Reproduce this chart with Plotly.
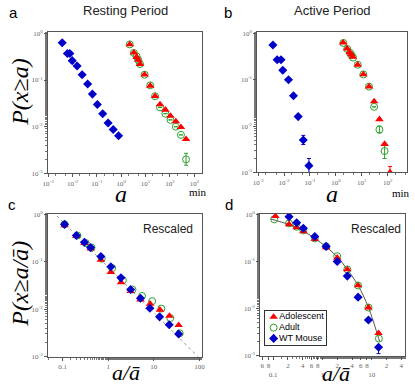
import plotly.graph_objects as go

# ---------------- data ----------------
# Panel a: Resting period
a_blue_x = [0.0038, 0.0062, 0.0078, 0.0098, 0.0155, 0.025, 0.042, 0.066, 0.105, 0.174, 0.29, 0.47, 0.78]
a_blue_y = [0.63, 0.37, 0.37, 0.26, 0.20, 0.13, 0.082, 0.050, 0.030, 0.019, 0.012, 0.0087, 0.0064]
a_red_x = [2.24, 3.3, 4.3, 5.0, 5.9, 9.1, 15.5, 24.5, 39, 65, 105, 174, 282, 457]
a_red_y = [0.58, 0.385, 0.31, 0.27, 0.22, 0.13, 0.075, 0.045, 0.030, 0.023, 0.017, 0.013, 0.0098, 0.0054]
a_green_x = [2.24, 3.3, 4.3, 5.0, 5.9, 9.1, 15.5, 24.5, 39, 65, 105, 174, 282, 457]
a_green_y = [0.58, 0.38, 0.32, 0.27, 0.22, 0.13, 0.077, 0.045, 0.026, 0.019, 0.014, 0.010, 0.0067, 0.0020]
a_green_eup = [0, 0, 0, 0, 0, 0, 0, 0, 0, 0, 0, 0, 0, 0.0007]
a_green_edn = [0, 0, 0, 0, 0, 0, 0, 0, 0, 0, 0, 0, 0, 0.0005]

# Panel b: Active period
b_blue_x = [0.0037, 0.0054, 0.0076, 0.0089, 0.0148, 0.023, 0.035, 0.055, 0.091]
b_blue_y = [0.56, 0.27, 0.27, 0.16, 0.10, 0.045, 0.016, 0.0050, 0.0014]
b_blue_eup = [0, 0, 0, 0, 0, 0, 0, 0.0013, 0.0006]
b_blue_edn = [0, 0, 0, 0, 0, 0, 0, 0.0010, 0.0004]
b_red_x = [1.9, 2.7, 3.4, 3.9, 4.5, 6.9, 11.5, 19, 30, 48, 76, 123]
b_red_y = [0.63, 0.47, 0.39, 0.35, 0.31, 0.21, 0.13, 0.071, 0.034, 0.014, 0.0041, 0.0010]
b_red_eup = [0, 0, 0, 0, 0, 0, 0, 0, 0, 0, 0, 0.00035]
b_green_x = [1.95, 2.75, 3.5, 4.0, 4.6, 7.0, 11.5, 19, 30, 48, 76]
b_green_y = [0.62, 0.46, 0.38, 0.34, 0.30, 0.21, 0.13, 0.071, 0.026, 0.0084, 0.0029]
b_green_eup = [0, 0, 0, 0, 0, 0, 0, 0, 0, 0.0016, 0.0010]
b_green_edn = [0, 0, 0, 0, 0, 0, 0, 0, 0, 0.0013, 0.0009]

# Panel c: Rescaled (resting)
c_red_x = [0.11, 0.20, 0.30, 0.41, 0.69, 1.14, 1.9, 3.1, 5.1, 8.3, 13.6, 22, 35]
c_red_y = [0.59, 0.35, 0.25, 0.19, 0.11, 0.061, 0.037, 0.024, 0.016, 0.013, 0.0097, 0.0072, 0.0046]
c_blue_x = [0.11, 0.20, 0.30, 0.41, 0.69, 1.14, 1.9, 3.1, 5.1, 8.2, 13.4, 21.8, 35]
c_blue_y = [0.62, 0.36, 0.26, 0.20, 0.13, 0.079, 0.046, 0.026, 0.017, 0.0105, 0.0069, 0.0047, 0.0030]
c_green_x = [0.11, 0.21, 0.32, 0.43, 0.72, 1.22, 2.1, 3.4, 5.5, 9.2, 14.6, 23, 37]
c_green_y = [0.62, 0.36, 0.25, 0.20, 0.117, 0.074, 0.041, 0.026, 0.019, 0.0148, 0.0103, 0.0065, 0.0031]
c_fit_x = [0.06, 100]
c_fit_y = [1.15, 0.00093]

# Panel d: Rescaled (active)
d_red_x = [0.111, 0.21, 0.30, 0.41, 0.70, 1.19, 2.0, 3.2, 5.3, 8.6, 13.8]
d_red_y = [0.92, 0.62, 0.53, 0.44, 0.30, 0.20, 0.12, 0.068, 0.031, 0.0105, 0.0030]
d_blue_x = [0.21, 0.30, 0.41, 0.70, 1.19, 2.0, 3.2, 5.3, 8.6, 13.8]
d_blue_y = [0.90, 0.67, 0.51, 0.34, 0.21, 0.10, 0.049, 0.0175, 0.0057, 0.0015]
d_blue_edn = [0, 0, 0, 0, 0, 0, 0, 0, 0, 0.0004]
d_green_x = [0.105, 0.21, 0.30, 0.41, 0.70, 1.19, 2.0, 3.2, 5.3, 8.6, 14.0]
d_green_y = [0.79, 0.65, 0.55, 0.46, 0.31, 0.21, 0.13, 0.068, 0.031, 0.0105, 0.0023]
d_fit_x = [0.09, 0.2, 0.4, 0.7, 1.2, 2.0, 3.2, 5.3, 8.6, 14.5]
d_fit_y = [0.80, 0.62, 0.45, 0.31, 0.205, 0.125, 0.068, 0.031, 0.0105, 0.0020]

# legend entries
series_names = ["Adolescent", "Adult", "WT Mouse"]

y_tickvals = [0.001, 0.01, 0.1, 1]
y_ticktext = ["10<sup>-3</sup>", "10<sup>-2</sup>", "10<sup>-1</sup>", "10<sup>0</sup>"]
ab_x_tickvals = [0.001, 0.01, 0.1, 1, 10, 100, 1000]
ab_x_ticktext = ["10<sup>-3</sup>", "10<sup>-2</sup>", "10<sup>-1</sup>", "10<sup>0</sup>",
                 "10<sup>1</sup>", "10<sup>2</sup>", "10<sup>3</sup>"]
c_x_tickvals = [0.1, 1, 10, 100]
c_x_ticktext = ["0.1", "1", "10", "100"]
d_x_tickvals = [0.06, 0.08, 0.1, 0.2, 0.4, 0.6, 0.8, 1, 2, 4, 6, 8, 10, 20, 40]
d_x_ticktext = ["6", "8", "<br>0.1", "2", "4", "6", "8", "<br>1", "2", "4", "6", "8", "<br>10", "2", "4"]

# ---------------- styles ----------------
RED = "#ff0000"
BLUE = "#0000c8"
GREEN = "#2ca02c"
SERIF = "Liberation Serif"
SANS = "Liberation Sans"

red_m = dict(symbol="triangle-up", size=7.5, color=RED)
blue_m = dict(symbol="diamond", size=7, color=BLUE)
green_m = dict(symbol="circle-open", size=7, color=GREEN, line=dict(width=1, color=GREEN))

fig = go.Figure()

def add(x, y, m, name, xa, ya, eup=None, edn=None, ecol=None):
    err = None
    if eup is not None or edn is not None:
        err = dict(type="data", symmetric=False,
                   array=eup if eup is not None else [0] * len(y),
                   arrayminus=edn if edn is not None else [0] * len(y),
                   color=ecol, thickness=1, width=2)
    fig.add_trace(go.Scatter(x=x, y=y, mode="markers", marker=m, name=name,
                             showlegend=False, error_y=err, xaxis=xa, yaxis=ya))

# panel a
add(a_green_x, a_green_y, green_m, "Adult", "x", "y", eup=a_green_eup, edn=a_green_edn, ecol=GREEN)
add(a_red_x, a_red_y, red_m, "Adolescent", "x", "y")
add(a_blue_x, a_blue_y, blue_m, "WT Mouse", "x", "y")
# panel b
add(b_green_x, b_green_y, green_m, "Adult", "x2", "y2", eup=b_green_eup, edn=b_green_edn, ecol=GREEN)
add(b_red_x, b_red_y, red_m, "Adolescent", "x2", "y2", eup=b_red_eup, ecol=RED)
add(b_blue_x, b_blue_y, blue_m, "WT Mouse", "x2", "y2", eup=b_blue_eup, edn=b_blue_edn, ecol=BLUE)
# panel c
fig.add_trace(go.Scatter(x=c_fit_x, y=c_fit_y, mode="lines", showlegend=False,
                         line=dict(color="#8a9aa8", width=1, dash="dot"), xaxis="x3", yaxis="y3"))
add(c_green_x, c_green_y, green_m, "Adult", "x3", "y3")
add(c_red_x, c_red_y, red_m, "Adolescent", "x3", "y3")
add(c_blue_x, c_blue_y, blue_m, "WT Mouse", "x3", "y3")
# panel d
fig.add_trace(go.Scatter(x=d_fit_x, y=d_fit_y, mode="lines", showlegend=False, line_shape="spline",
                         line=dict(color="#555555", width=1), xaxis="x4", yaxis="y4"))
add(d_green_x, d_green_y, green_m, "Adult", "x4", "y4")
add(d_red_x, d_red_y, red_m, "Adolescent", "x4", "y4")
add(d_blue_x, d_blue_y, blue_m, "WT Mouse", "x4", "y4", edn=d_blue_edn, ecol=BLUE)

# compact legend drawn in its own small categorical axis
for name, m in zip(series_names, [red_m, green_m, blue_m]):
    fig.add_trace(go.Scatter(x=[0], y=[name], mode="markers+text", marker=m, text=[name],
                             textposition="middle right", cliponaxis=False, showlegend=False,
                             textfont=dict(family=SANS, size=9, color="black"),
                             xaxis="x5", yaxis="y5", hoverinfo="skip"))

W, H = 415, 387
def px_x(a, b):
    return [a / W, b / W]
def px_y(top, bottom):
    return [1 - bottom / H, 1 - top / H]

axis_common = dict(type="log", showline=True, linecolor="#555555", linewidth=1, mirror=True,
                   ticks="outside", ticklen=3, tickcolor="#555555", showgrid=False, zeroline=False,
                   tickangle=0,
                   tickfont=dict(family=SERIF, size=7, color="#666666"),
                   minor=dict(ticks="outside", ticklen=2, tickcolor="#777777", showgrid=False))

def yax(anchor, dom):
    return dict(axis_common, domain=dom, anchor=anchor, range=[-3, 0.02],
                tickmode="array", tickvals=y_tickvals, ticktext=y_ticktext)

fig.update_layout(
    width=W, height=H,
    margin=dict(l=0, r=0, t=0, b=0),
    paper_bgcolor="white", plot_bgcolor="white",
    showlegend=False,
    xaxis=dict(axis_common, domain=px_x(43, 200), anchor="y", range=[-3.0, 3.3],
               tickmode="array", tickvals=ab_x_tickvals, ticktext=ab_x_ticktext),
    yaxis=yax("x", px_y(29, 173)),
    xaxis2=dict(axis_common, domain=px_x(257, 410), anchor="y2", range=[-3.03, 2.75],
                tickmode="array", tickvals=ab_x_tickvals, ticktext=ab_x_ticktext),
    yaxis2=yax("x2", px_y(29, 172)),
    xaxis3=dict(axis_common, domain=px_x(43, 200), anchor="y3", range=[-1.32, 2.05],
                tickmode="array", tickvals=c_x_tickvals, ticktext=c_x_ticktext),
    yaxis3=yax("x3", px_y(214, 360)),
    xaxis4=dict(axis_common, domain=px_x(260, 408), anchor="y4", range=[-1.26, 1.68],
                tickmode="array", tickvals=d_x_tickvals, ticktext=d_x_ticktext),
    yaxis4=yax("x4", px_y(214, 359)),
    xaxis5=dict(domain=px_x(265, 327), anchor="y5", range=[-0.16, 1.0], showline=True, mirror=True,
                linecolor="#333333", linewidth=1, showticklabels=False, ticks="", showgrid=False,
                zeroline=False, fixedrange=True),
    yaxis5=dict(domain=px_y(313, 348), anchor="x5", type="category", categoryorder="array",
                categoryarray=series_names[::-1], range=[-0.6, 2.6], showline=True, mirror=True,
                linecolor="#333333", linewidth=1, showticklabels=False, ticks="", showgrid=False,
                zeroline=False, fixedrange=True),
)

def ann(text, x, y, size, family, italic=False, angle=0, color="black"):
    fig.add_annotation(text=("<i>%s</i>" % text) if italic else text,
                       x=x / W, y=1 - y / H, xref="paper", yref="paper",
                       showarrow=False, textangle=angle, xanchor="center", yanchor="middle",
                       font=dict(family=family, size=size, color=color))

ann("a", 8, 9, 15, SANS)
ann("b", 227, 9, 15, SANS)
ann("c", 6, 205, 15, SANS)
ann("d", 228, 205, 15, SANS)
ann("Resting Period", 122, 7, 13, SANS, color="#222222")
ann("Active Period", 334, 7, 13, SANS, color="#222222")
ann("Rescaled", 166, 230, 12, SANS, color="#222222")
ann("Rescaled", 378, 230, 12, SANS, color="#222222")
ann("P(x≥a)", 14, 90, 24, SERIF, italic=True, angle=-90)
ann("P(x≥a/ā)", 14, 286, 24, SERIF, italic=True, angle=-90)
ann("a", 118, 194, 24, SERIF, italic=True)
ann("a", 333, 194, 24, SERIF, italic=True)
ann("min", 196, 192, 11, SERIF)
ann("min", 404, 193, 11, SERIF)
ann("a/ā", 123, 376, 22, SERIF, italic=True)
ann("a/ā", 337, 377, 22, SERIF, italic=True)

fig.write_html("out.html", config={"displayModeBar": False, "staticPlot": True},
               post_script="document.body.style.margin='0px';document.body.style.overflow='hidden';")
